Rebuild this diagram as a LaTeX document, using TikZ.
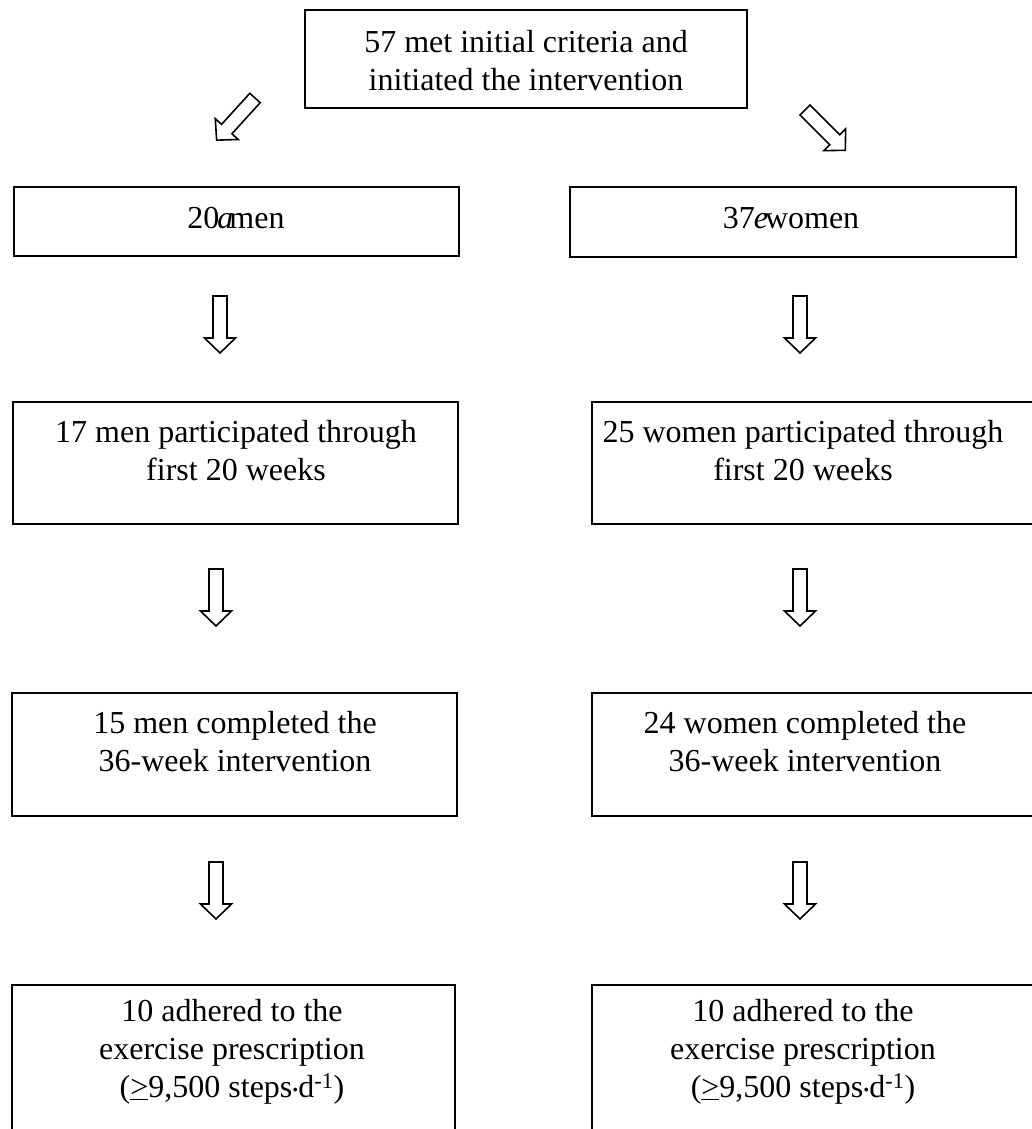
\documentclass[tikz,border=0pt]{standalone}
\usepackage{fontspec}
\setmainfont{Liberation Serif}
\begin{document}
\begin{tikzpicture}[x=1pt,y=-1pt,
  box/.style={draw, line width=1.9pt, rectangle, inner sep=0pt, outer sep=0pt},
  txt/.style={font=\fontsize{32}{38}\selectfont, align=center, inner sep=0pt},
  arrowline/.style={draw, line width=1.6pt, line join=miter, fill=white},
  blockarrow/.pic={\path[arrowline] (-7,0) -- (-7,42) -- (-15.5,42) -- (0,57) -- (15.5,42) -- (7,42) -- (7,0) -- cycle;}
]
\fill[white] (0,0) rectangle (1032,1129);
\clip (0,0) rectangle (1032,1129);

% boxes
\node[box, minimum width=442pt, minimum height=98pt] (top) at (526,59) {};
\node[box, minimum width=445pt, minimum height=69pt] (men1) at (236.5,221.5) {};
\node[box, minimum width=446pt, minimum height=70pt] (women1) at (793,222) {};
\node[box, minimum width=445pt, minimum height=122pt] (men2) at (235.5,463) {};
\node[box, minimum width=453pt, minimum height=122pt] (women2) at (818.5,463) {};
\node[box, minimum width=445pt, minimum height=123pt] (men3) at (234.5,754.5) {};
\node[box, minimum width=453pt, minimum height=123pt] (women3) at (818.5,754.5) {};
\node[box, minimum width=443pt, minimum height=160pt] (men4) at (233.5,1065) {};
\node[box, minimum width=453pt, minimum height=160pt] (women4) at (818.5,1065) {};

% texts
\node[txt] (toptxt) at (526,60.5) {57 met initial criteria and\\initiated the intervention};
\node[txt] (men1txt) at (236,218) {20\kern-2pt{\itshape a}\kern-4pt men};
\node[txt] (women1txt) at (791,218) {37\kern-1pt{\itshape e}\kern-3pt women};
\node[txt] (men2txt) at (236,451) {17 men participated through\\first 20 weeks};
\node[txt] (women2txt) at (803,451) {25 women participated through\\first 20 weeks};
\node[txt] (men3txt) at (235,741.5) {15 men completed the\\36-week intervention};
\node[txt] (women3txt) at (805,741.5) {24 women completed the\\36-week intervention};
\node[txt] (men4txt) at (232,1052) {10 adhered to the\\exercise prescription\\(\underline{>}9,500 steps\kern-1pt\raisebox{6pt}{.}\kern-1pt d\textsuperscript{-1})};
\node[txt] (women4txt) at (803,1052) {10 adhered to the\\exercise prescription\\(\underline{>}9,500 steps\kern-1pt\raisebox{6pt}{.}\kern-1pt d\textsuperscript{-1})};

% block arrows
\pic[rotate=-42.3] (ldiag) at (255,98) {blockarrow};
\pic[rotate=45] (rdiag) at (805,110) {blockarrow};
\pic (la1) at (220,296) {blockarrow};
\pic (ra1) at (800,296) {blockarrow};
\pic (la2) at (216,569) {blockarrow};
\pic (ra2) at (800,569) {blockarrow};
\pic (la3) at (216,862) {blockarrow};
\pic (ra3) at (800,862) {blockarrow};
\end{tikzpicture}
\end{document}
